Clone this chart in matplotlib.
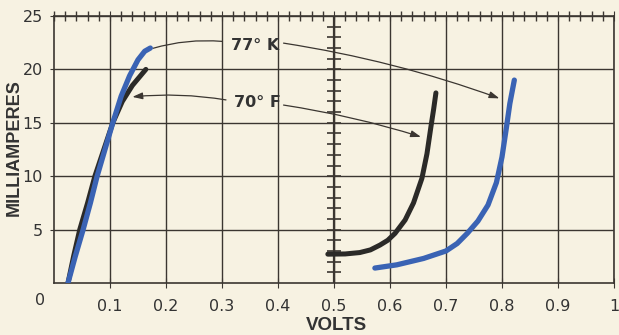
import numpy as np
import matplotlib
matplotlib.use("Agg")
import matplotlib.pyplot as plt
from matplotlib.ticker import MultipleLocator

# data (volts, milliamperes)
# left branch
k77_left_v = [0.025, 0.038, 0.052, 0.065, 0.077, 0.091, 0.105, 0.120, 0.135, 0.150, 0.162, 0.172]
k77_left_i = [0.0, 2.5, 5.0, 7.5, 10.0, 12.5, 15.0, 17.5, 19.4, 20.9, 21.7, 22.0]
f70_left_v = [0.025, 0.035, 0.046, 0.060, 0.073, 0.089, 0.105, 0.122, 0.140, 0.164]
f70_left_i = [0.0, 2.5, 5.0, 7.5, 10.0, 12.5, 15.0, 17.0, 18.5, 20.0]

# right branch
f70_right_v = [0.489, 0.52, 0.546, 0.565, 0.582, 0.596, 0.609, 0.627, 0.642, 0.657, 0.666, 0.673, 0.678, 0.682]
f70_right_i = [2.7, 2.72, 2.85, 3.1, 3.55, 4.0, 4.65, 5.9, 7.5, 9.8, 12.1, 14.6, 16.3, 17.8]
k77_right_v = [0.573, 0.612, 0.66, 0.70, 0.72, 0.738, 0.757, 0.775, 0.790, 0.800, 0.808, 0.814, 0.822]
k77_right_i = [1.4, 1.7, 2.3, 3.0, 3.7, 4.65, 5.8, 7.3, 9.4, 11.8, 14.6, 16.8, 19.0]

x_ticks = [0.1, 0.2, 0.3, 0.4, 0.5, 0.6, 0.7, 0.8, 0.9, 1.0]
x_labels = ["0.1", "0.2", "0.3", "0.4", "0.5", "0.6", "0.7", "0.8", "0.9", "1"]
y_ticks = [5, 10, 15, 20, 25]

paper = "#f7f2e2"
ink = "#3b3631"
blue = "#3a63b4"
black = "#2b2a28"
label_font = "Liberation Sans"

fig = plt.figure(figsize=(6.19, 3.35), dpi=100, facecolor=paper)
ax = fig.add_axes([54/619, 1 - 283/335, 560/619, 267/335])
ax.set_facecolor(paper)

ax.set_xlim(0, 1)
ax.set_ylim(0, 25)
ax.set_xticks(x_ticks)
ax.set_xticklabels(x_labels)
ax.set_yticks(y_ticks)
ax.xaxis.set_minor_locator(MultipleLocator(0.02))
ax.grid(True, which="major", color=ink, linewidth=1.0)
ax.set_axisbelow(True)

for s in ax.spines.values():
    s.set_color(ink)
    s.set_linewidth(1.2)

ax.tick_params(axis="both", which="major", labelsize=11.5, colors=ink, labelcolor="#333", length=3)
ax.tick_params(axis="x", which="major", pad=8, top=True, direction="inout", length=7)
ax.tick_params(axis="x", which="minor", bottom=False, top=True, direction="inout", length=7, width=1, color=ink)
ax.tick_params(axis="y", pad=5)

# origin label
ax.text(-0.025, -0.95, "0", transform=ax.transData, ha="center", va="top",
        fontsize=11.5, color="#333", clip_on=False)

# centre axis at 0.5 V with 1 mA ticks
ax.axvline(0.5, color=ink, linewidth=1.6, zorder=1)
ax.plot([0.5] * 24, np.arange(1, 25), linestyle="none", marker="_", markersize=10,
        markeredgewidth=1.2, color=ink, zorder=1)

# curves
ax.plot(f70_left_v, f70_left_i, color=black, linewidth=3.6, solid_capstyle="round", zorder=3)
ax.plot(k77_left_v, k77_left_i, color=blue, linewidth=3.8, solid_capstyle="round", zorder=4)
ax.plot(f70_right_v, f70_right_i, color=black, linewidth=3.6, solid_capstyle="round",
        solid_joinstyle="round", zorder=3)
ax.plot(k77_right_v, k77_right_i, color=blue, linewidth=3.8, solid_capstyle="round",
        solid_joinstyle="round", zorder=3)

# labels with leader lines
ax.text(0.359, 22.2, "77° K", ha="center", va="center", fontsize=11.5,
        fontweight="bold", color="#333", zorder=5)
ax.text(0.3625, 16.9, "70° F", ha="center", va="center", fontsize=11.5,
        fontweight="bold", color="#333", zorder=5)

line_kw = dict(color=ink, linewidth=0.9)
ax.annotate("", xy=(0.172, 21.9), xytext=(0.305, 22.6),
            arrowprops=dict(arrowstyle="-", connectionstyle="arc3,rad=0.1", **line_kw))
ax.annotate("", xy=(0.80, 17.2), xytext=(0.405, 22.5),
            arrowprops=dict(arrowstyle="-|>,head_length=0.6,head_width=0.2",
                            connectionstyle="arc3,rad=-0.05", **line_kw))
ax.annotate("", xy=(0.135, 17.4), xytext=(0.312, 17.1),
            arrowprops=dict(arrowstyle="-|>,head_length=0.6,head_width=0.2",
                            connectionstyle="arc3,rad=0.07", **line_kw))
ax.annotate("", xy=(0.660, 13.6), xytext=(0.405, 16.7),
            arrowprops=dict(arrowstyle="-|>,head_length=0.6,head_width=0.2",
                            connectionstyle="arc3,rad=-0.04", **line_kw))

ax.set_xlabel("VOLTS", fontsize=13.5, fontweight="bold", color="#333", family=label_font)
ax.set_ylabel("MILLIAMPERES", fontsize=13, fontweight="bold", color="#333", family=label_font)
ax.xaxis.set_label_coords(0.504, -0.128)
ax.yaxis.set_label_coords(-0.056, 0.506)

fig.savefig("out.png", dpi=100, facecolor=paper)
